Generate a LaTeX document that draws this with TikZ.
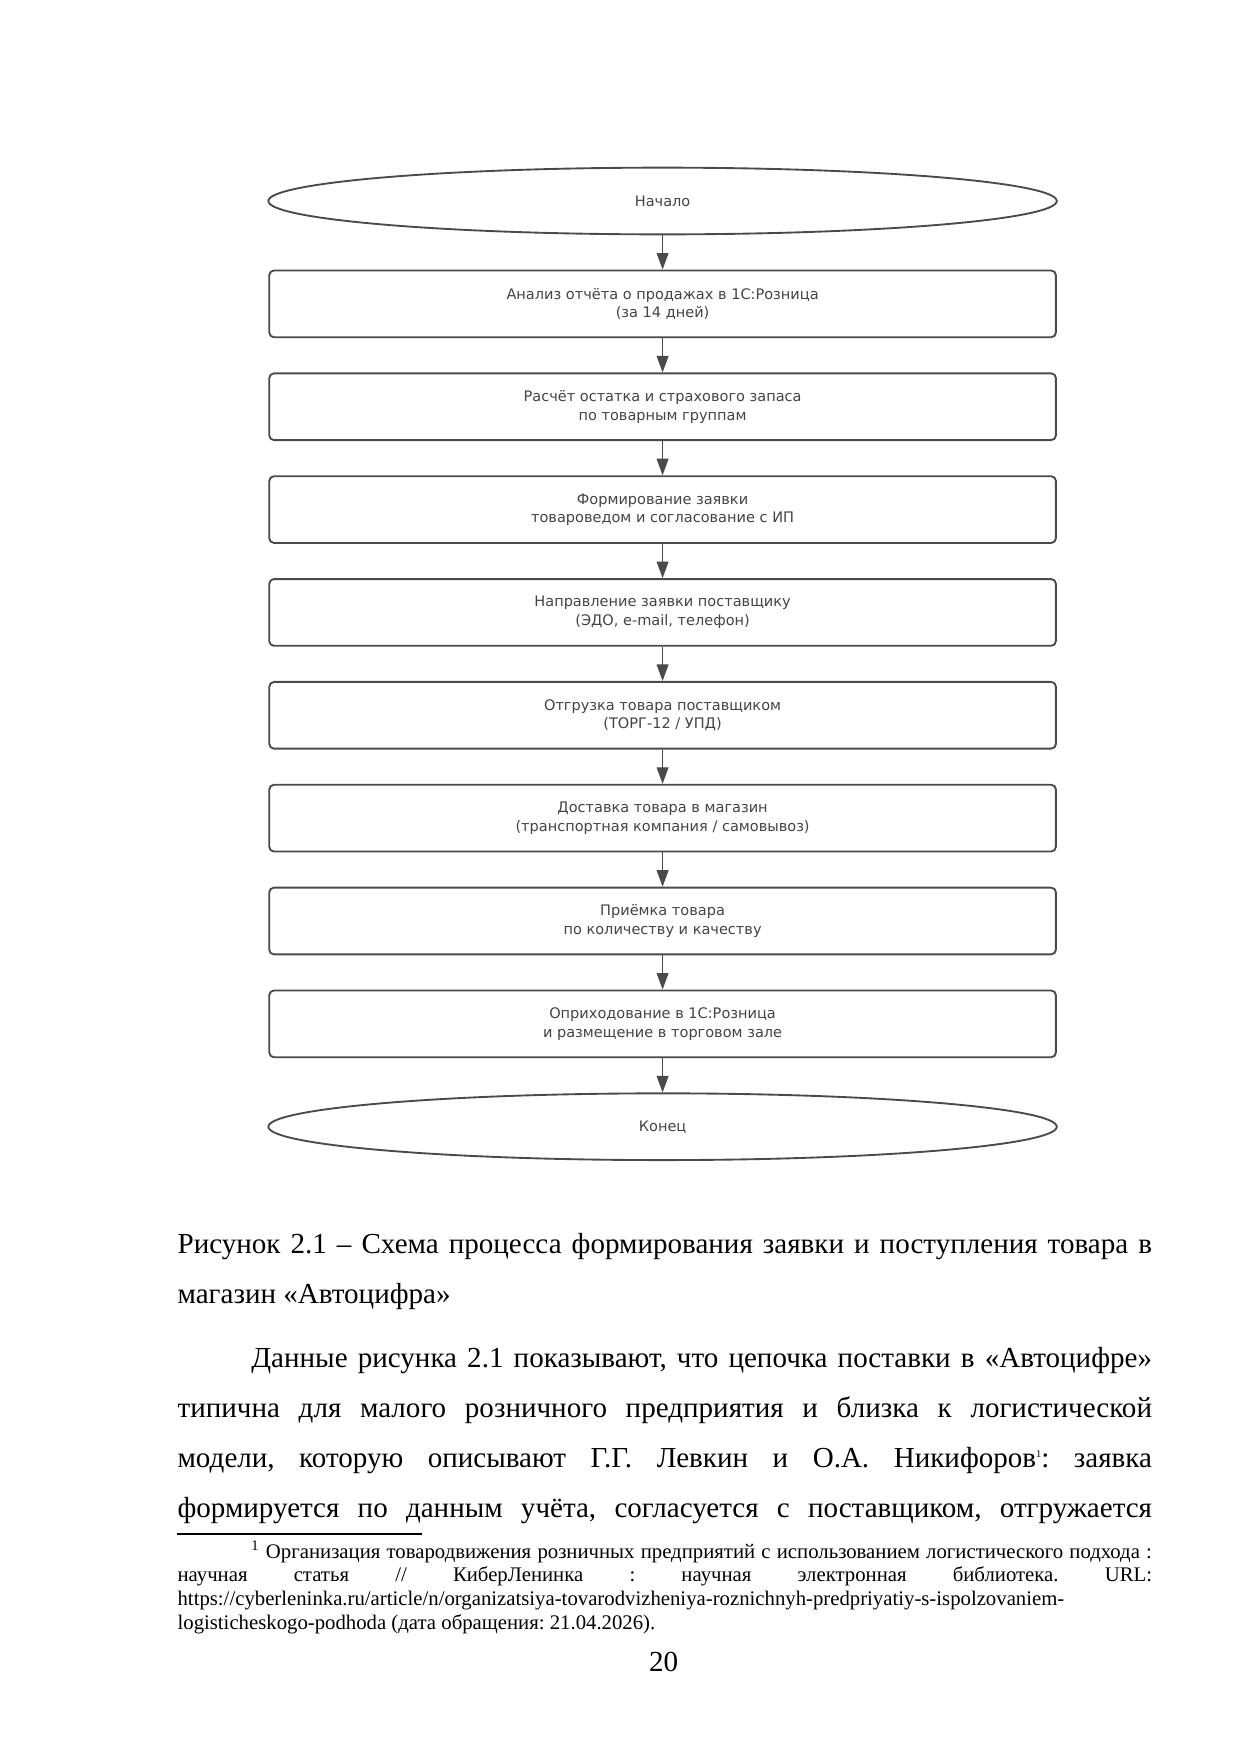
\documentclass[tikz,border=0pt]{standalone}
\usepackage{fontspec}
\setmainfont{Liberation Serif}
\newfontfamily\boxfont{DejaVu Sans}
\usetikzlibrary{positioning,shapes.geometric,arrows.meta}

\definecolor{flowgray}{HTML}{4A4A4A}
\definecolor{labelgray}{HTML}{444444}
\frenchspacing
\hyphenpenalty=10000
\tolerance=10000

\tikzset{
  terminal/.style={ellipse,draw=flowgray,line width=0.9pt,minimum width=133.5mm,
    minimum height=11.3mm,inner sep=0pt,text=labelgray,
    font={\boxfont\fontsize{7}{9}\selectfont}},
  stepbox/.style={rectangle,rounded corners=0.8mm,draw=flowgray,line width=0.9pt,
    minimum width=133.2mm,minimum height=11.3mm,align=center,text=labelgray,
    font={\boxfont\fontsize{7}{9}\selectfont}},
  flowarrow/.style={draw=flowgray,line width=0.6pt,-{Triangle[width=2mm,length=2.8mm]}},
  pagetext/.style={anchor=base west,inner sep=0pt,text width=165mm,align=justify}
}

\begin{document}
\begin{tikzpicture}[x=0.16922mm,y=-0.16933mm,node distance=5.8mm]
\fill[white] (0,0) rectangle (1241,1754);
\useasboundingbox (0,0) rectangle (1241,1754);
\node[terminal] (1) at (663,201) {Начало};
\node[stepbox,below=of 1] (2) {Анализ отчёта о продажах в 1С:Розница\\(за 14 дней)};
\node[stepbox,below=of 2] (3) {Расчёт остатка и страхового запаса\\по товарным группам};
\node[stepbox,below=of 3] (4) {Формирование заявки\\товароведом и согласование с ИП};
\node[stepbox,below=of 4] (5) {Направление заявки поставщику\\(ЭДО, e-mail, телефон)};
\node[stepbox,below=of 5] (6) {Отгрузка товара поставщиком\\(ТОРГ-12 / УПД)};
\node[stepbox,below=of 6] (7) {Доставка товара в магазин\\(транспортная компания / самовывоз)};
\node[stepbox,below=of 7] (8) {Приёмка товара\\по количеству и качеству};
\node[stepbox,below=of 8] (9) {Оприходование в 1С:Розница\\и размещение в торговом зале};
\node[terminal,below=of 9] (10) {Конец};
\foreach \from/\to in {1/2,2/3,3/4,4/5,5/6,6/7,7/8,8/9,9/10}
  \draw[flowarrow] (\from) -- (\to);
% text of the page
\node[pagetext,font=\fontsize{14}{24.15}\selectfont] (caption) at (177.3,1253)
  {Рисунок 2.1 – Схема процесса формирования заявки и поступления товара в\linebreak
   магазин «Автоцифра»};
\node[pagetext,font=\fontsize{14}{24.15}\selectfont] (para) at (177.3,1367)
  {\hspace*{12.5mm}Данные рисунка 2.1 показывают, что цепочка поставки в «Автоцифре»\linebreak
   типична для малого розничного предприятия и близка к логистической\linebreak
   модели, которую описывают Г.Г. Левкин и О.А. Никифоров\raisebox{0.75ex}{\fontsize{5}{5}\selectfont 1}: заявка\linebreak
   формируется по данным учёта, согласуется с поставщиком, отгружается\parfillskip=0pt\par};
\draw[line width=0.7pt] (177.3,1534) -- (422,1534);
\node[pagetext,font=\fontsize{10}{11.5}\selectfont] (fnote) at (177.3,1558)
  {\hspace*{12.5mm}\textsuperscript{1} Организация товародвижения розничных предприятий с использованием логистического подхода :\linebreak
   научная статья // КиберЛенинка : научная электронная библиотека. URL:\linebreak
   https://cyberleninka.ru/article/n/organizatsiya-tovarodvizheniya-roznichnyh-predpriyatiy-s-ispolzovaniem-\newline
   logisticheskogo-podhoda (дата обращения: 21.04.2026).};
\node[anchor=base,inner sep=0pt,font=\fontsize{14}{16}\selectfont] (pagenum) at (664,1671) {20};
\end{tikzpicture}
\end{document}
